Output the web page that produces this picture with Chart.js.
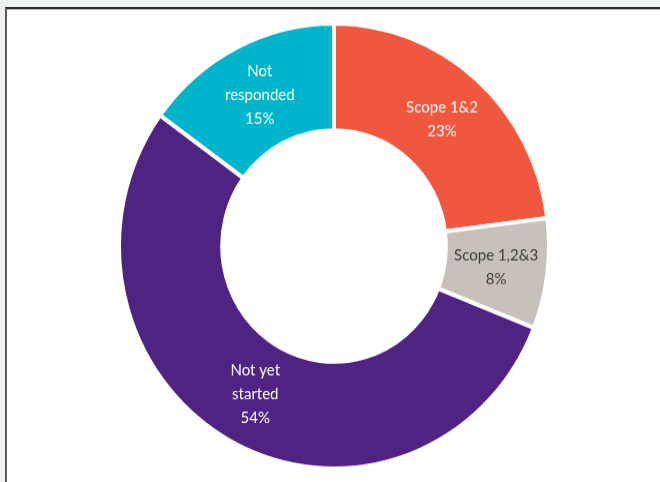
<!DOCTYPE html>
<html>
<head>
<meta charset="utf-8">
<script src="https://cdn.jsdelivr.net/npm/chart.js@4.4.0/dist/chart.umd.min.js"></script>
<style>
  html, body { margin: 0; padding: 0; }
  body { width: 660px; height: 482px; background: #eef2f0; overflow: hidden; position: relative; }
  #frame {
    position: absolute; left: 5px; top: 7px; width: 700px; height: 500px;
    background: #fff; border-top: 2px solid #2b2b2b; border-left: 2px solid #5a5a5a;
    box-shadow: inset 0 1px 0 #b8b8b8;
  }
  #wrap {
    position: absolute; left: 117px; top: 29px; width: 434px; height: 434px;
    transform: scaleY(1.035); transform-origin: 50% 50%;
  }
</style>
</head>
<body>
<div id="frame"></div>
<div id="wrap"><canvas id="plot"></canvas></div>
<script>
const plot = document.querySelector("#plot");
const ctx = plot.getContext("2d");

const categories = ["Scope 1&2", "Scope 1,2&3", "Not yet started", "Not responded"];
const shares = [23, 8, 54, 15];
// how each category name wraps inside its slice
const labelLines = [["Scope 1&2"], ["Scope 1,2&3"], ["Not yet", "started"], ["Not", "responded"]];
const sliceColours = ["#f0573f", "#c8c1b9", "#4f2382", "#00b5cb"];
const textColours = ["#ffffff", "#3d3d3d", "#ffffff", "#ffffff"];

// writes the category and its percentage in the middle of each ring segment
const sliceLabels = {
  id: "sliceLabels",
  afterDatasetsDraw: chart => {
    const c = chart.ctx;
    const arcs = chart.getDatasetMeta(0).data;
    c.save();
    c.font = "15px Lato";
    c.textAlign = "center";
    c.textBaseline = "middle";
    const lineH = 23;
    arcs.forEach((arc, i) => {
      const pos = arc.tooltipPosition();
      const lines = labelLines[i].concat([shares[i] + "%"]);
      const top = pos.y - (lines.length - 1) * lineH / 2;
      c.fillStyle = textColours[i];
      lines.forEach((t, j) => c.fillText(t, pos.x, top + j * lineH));
    });
    c.restore();
  }
};

const chart = new Chart(ctx, {
  type: "doughnut",
  data: {
    labels: categories,
    datasets: [{
      data: shares,
      backgroundColor: sliceColours,
      borderColor: "#ffffff",
      borderWidth: 4,
      hoverOffset: 0
    }]
  },
  options: {
    responsive: true,
    maintainAspectRatio: false,
    animation: false,
    cutout: "52%",
    layout: { padding: 0 },
    plugins: {
      legend: { display: false },
      tooltip: { enabled: false }
    }
  },
  plugins: [sliceLabels]
});
</script>
</body>
</html>
